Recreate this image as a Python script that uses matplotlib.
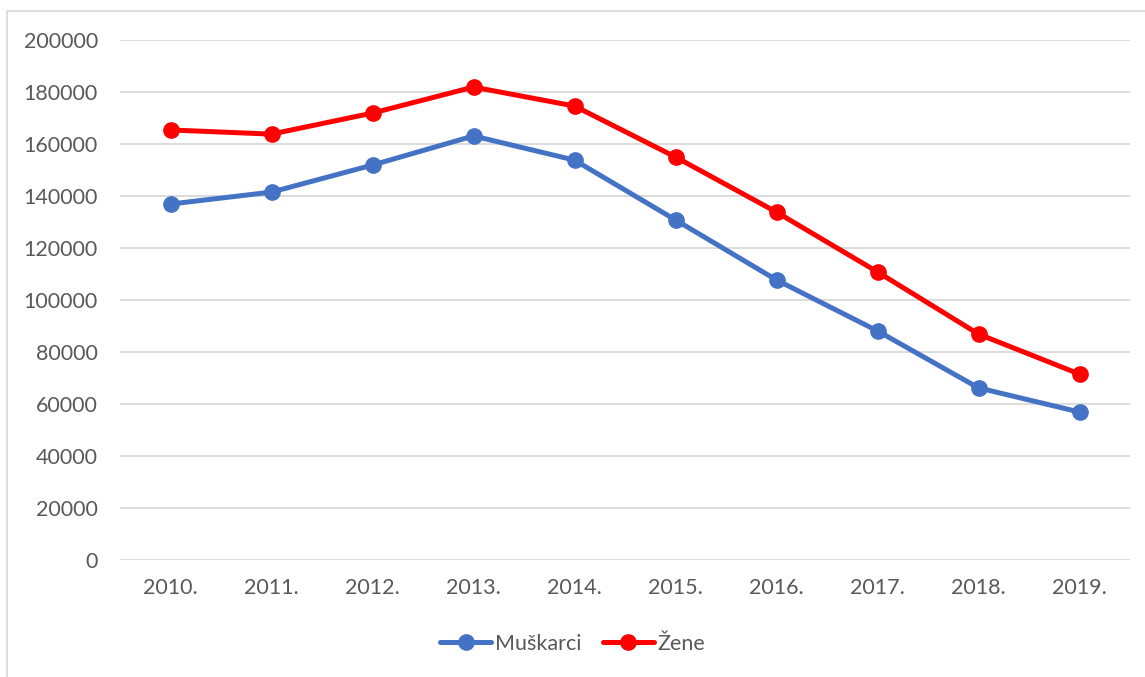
import matplotlib.pyplot as plt
from matplotlib.patches import Rectangle

years = ["2010.", "2011.", "2012.", "2013.", "2014.", "2015.", "2016.", "2017.", "2018.", "2019."]
muskarci = [136900, 141500, 151900, 163100, 153800, 130800, 107700, 88100, 66200, 56900]
zene = [165400, 163800, 171900, 181900, 174600, 155000, 133800, 110800, 86900, 71500]

plt.rcParams["font.family"] = ["Lato", "DejaVu Sans"]
text_color = "#595959"

fig = plt.figure(figsize=(11.45, 6.77), dpi=100)
ax = fig.add_axes([120 / 1145, 117 / 677, 1010 / 1145, 520 / 677])

# light frame around the chart area
fig.patches.append(Rectangle((7 / 1145, -0.1), 1.2, (677 - 11) / 677 + 0.1,
                             transform=fig.transFigure, fill=False,
                             edgecolor="#d9d9d9", linewidth=1.2))

x = range(len(years))
ax.plot(x, muskarci, color="#4472C4", linewidth=3.6, marker="o", markersize=11,
        label="Muškarci", solid_capstyle="round", zorder=3)
ax.plot(x, zene, color="#FF0000", linewidth=3.6, marker="o", markersize=11,
        label="Žene", solid_capstyle="round", zorder=3)

ax.set_xlim(-0.5, len(years) - 0.5)
ax.set_ylim(0, 200000)
ax.set_yticks(range(0, 200001, 20000))
ax.set_yticklabels([str(v) for v in range(0, 200001, 20000)])
ax.set_xticks(list(x))
ax.set_xticklabels(years)
ax.grid(axis="y", color="#d9d9d9", linewidth=1.3)
ax.set_axisbelow(True)
for s in ax.spines.values():
    s.set_visible(False)
ax.tick_params(length=0, labelsize=15.5, colors=text_color, pad=16)
ax.tick_params(axis="x", pad=13)

leg = fig.legend(loc="center", bbox_to_anchor=(0.5, 1 - 644 / 677), ncol=2,
                 frameon=False, fontsize=15.5, handlelength=2.4, columnspacing=1.0,
                 handletextpad=0.15)
for t in leg.get_texts():
    t.set_color(text_color)

fig.savefig("out.png", dpi=100)
